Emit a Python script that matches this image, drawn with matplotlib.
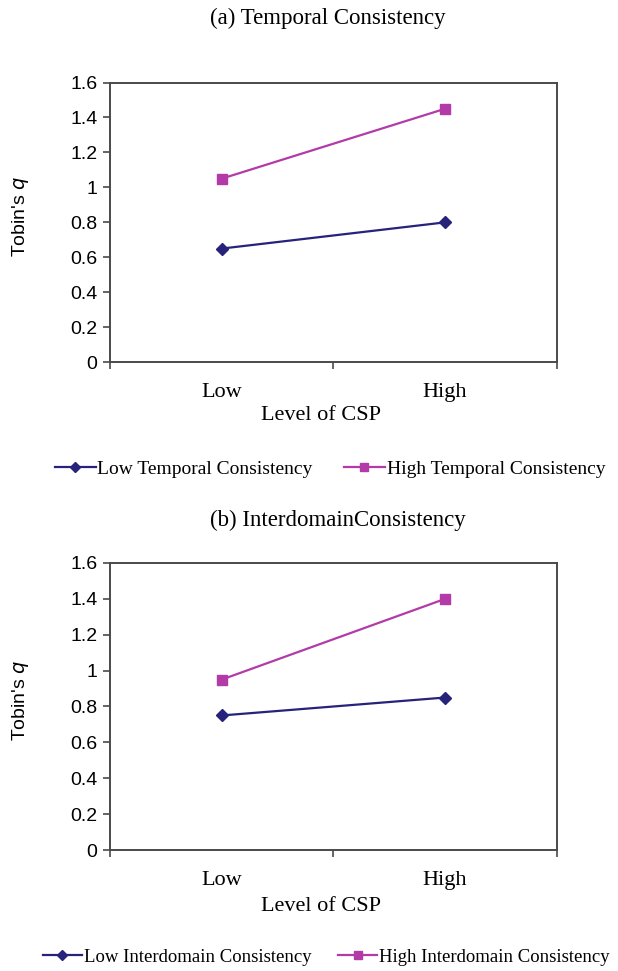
import matplotlib.pyplot as plt
from matplotlib.lines import Line2D

levels = ['Low', 'High']
low_temporal = [0.65, 0.80]
high_temporal = [1.05, 1.45]
low_interdomain = [0.75, 0.85]
high_interdomain = [0.95, 1.40]
yticks = [0, 0.2, 0.4, 0.6, 0.8, 1, 1.2, 1.4, 1.6]
ytick_labels = ['0', '0.2', '0.4', '0.6', '0.8', '1', '1.2', '1.4', '1.6']

navy = '#27237a'
magenta = '#b23ba8'
frame = '#4a4a4a'
serif = 'Liberation Serif'
sans = 'Liberation Sans'

fig = plt.figure(figsize=(6.18, 9.71), dpi=100)


def panel(rect, title, low, high, low_name, high_name, title_xy, leg_xy,
          xlab_y, leg_size, leg_gap):
    ax = fig.add_axes(rect)
    xs = [0.5, 1.5]
    ax.plot(xs, low, color=navy, lw=1.6, marker='D', ms=6.5, mec=navy, mfc=navy)
    ax.plot(xs, high, color=magenta, lw=1.6, marker='s', ms=7.5, mec=magenta, mfc=magenta)
    ax.set_xlim(0, 2)
    ax.set_ylim(0, 1.6)
    ax.set_yticks(yticks)
    ax.set_yticklabels(ytick_labels, fontfamily=sans, fontsize=14)
    ax.set_xticks([0, 1, 2])
    ax.set_xticklabels([])
    ax.set_xticks(xs, minor=True)
    ax.set_xticklabels(levels, minor=True, fontfamily=serif, fontsize=16)
    ax.tick_params(axis='x', which='minor', length=0, pad=15)
    ax.tick_params(axis='both', which='major', direction='out', length=5,
                   width=1.2, color=frame)
    ax.tick_params(axis='y', pad=4)
    for s in ax.spines.values():
        s.set_color(frame)
        s.set_linewidth(1.4)
    ax.text(0.472, xlab_y, 'Level of CSP', transform=ax.transAxes,
            ha='center', va='center', fontfamily=serif, fontsize=16)
    ax.set_ylabel("Tobin's $\\mathit{q}$", fontfamily=sans, fontsize=14)
    ax.yaxis.set_label_coords(-0.176, 0.52)
    fig.text(title_xy[0], title_xy[1], title, ha='center', va='center',
             fontfamily=serif, fontsize=16.5)
    handles = [
        Line2D([], [], color=navy, lw=1.6, marker='D', ms=5),
        Line2D([], [], color=magenta, lw=1.6, marker='s', ms=6),
    ]
    fig.legend(handles, [low_name, high_name], loc='center',
               bbox_to_anchor=leg_xy, ncol=2, frameon=False,
               prop={'family': serif, 'size': leg_size}, handlelength=2.1,
               handletextpad=0.1, columnspacing=leg_gap, borderaxespad=0)
    return ax


panel([0.178, 0.627, 0.723, 0.288], '(a) Temporal Consistency',
      low_temporal, high_temporal,
      'Low Temporal Consistency', 'High Temporal Consistency',
      (0.531, 0.9815), (0.534, 0.517), -0.19, 14, 1.6)
panel([0.178, 0.1246, 0.723, 0.2956], '(b) InterdomainConsistency',
      low_interdomain, high_interdomain,
      'Low Interdomain Consistency', 'High Interdomain Consistency',
      (0.547, 0.4645), (0.528, 0.0144), -0.196, 13.5, 1.4)

fig.savefig('out.png', dpi=100)
